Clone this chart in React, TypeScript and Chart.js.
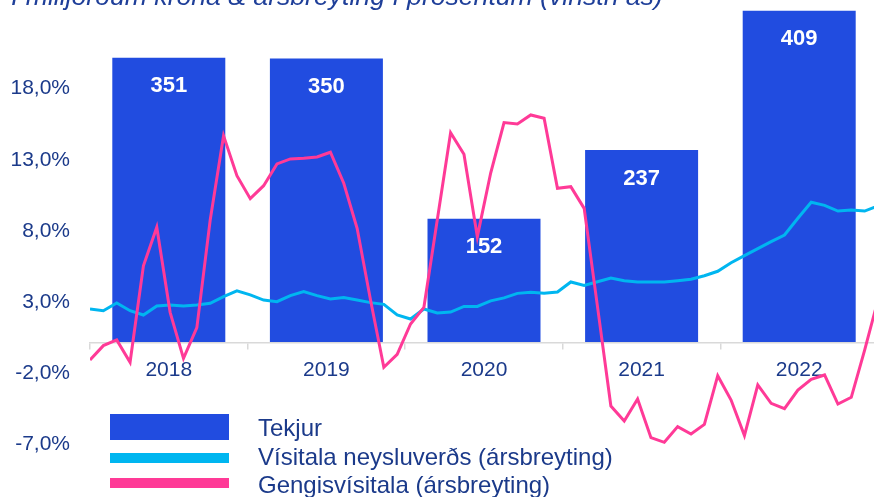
import React, { useEffect, useRef } from "react";
import { Chart, registerables } from "chart.js";

Chart.register(...registerables);

const TITLE = "Í milljörðum króna & ársbreyting í prósentum (vinstri ás)";
const YEARS = ["2018", "2019", "2020", "2021", "2022"];
const TEKJUR = [351, 350, 152, 237, 409];
const VISITALA = [
  2.35, 2.23, 2.77, 2.23, 1.93, 2.56, 2.63, 2.56, 2.63, 2.75, 3.22, 3.62,
  3.34, 2.98, 2.87, 3.29, 3.57, 3.29, 3.05, 3.15, 2.98, 2.8, 2.68, 1.93,
  1.65, 2.35, 2.07, 2.14, 2.53, 2.53, 2.92, 3.13, 3.45, 3.52, 3.45, 3.55,
  4.25, 4.01, 4.27, 4.53, 4.34, 4.25, 4.25, 4.25, 4.34, 4.44, 4.69, 5.0,
  5.6, 6.1, 6.59, 7.08, 7.55, 8.72, 9.85, 9.63, 9.23, 9.3, 9.23, 9.6,
];
const GENGI = [
  -1.23, -0.22, 0.18, -1.39, 5.39, 8.09, 2.12, -1.11, 1.04, 8.6, 14.52, 11.71,
  10.1, 11.01, 12.54, 12.89, 12.94, 13.03, 13.36, 11.18, 8.02, 3.0, -1.74, -0.83,
  1.3, 2.47, 8.6, 14.73, 13.22, 7.43, 11.9, 15.44, 15.34, 15.98, 15.74, 10.83,
  10.94, 9.42, 2.5, -4.46, -5.51, -3.97, -6.68, -7.01, -5.91, -6.43, -5.75, -2.33,
  -4.04, -6.54, -2.98, -4.27, -4.65, -3.34, -2.59, -2.28, -4.32, -3.85, -0.53, 3.0,
];
const Y_TICKS = [-7, -2, 3, 8, 13, 18];
const LEGEND_LABELS = [
  "Tekjur",
  "Vísitala neysluverðs (ársbreyting)",
  "Gengisvísitala (ársbreyting)",
];

const NAVY = "#1B3A8A";
const TITLE_BLUE = "#1F3F99";
const BAR = "#214CE0";
const CYAN = "#00B6F0";
const PINK = "#FF3A97";
const FONT = '"Liberation Sans", Arial, sans-serif';

const barLabels = {
  id: "barLabels",
  afterDatasetDraw(chart: any, args: any) {
    if (args.index !== 2) return;
    const ctx = chart.ctx;
    ctx.save();
    ctx.fillStyle = "#ffffff";
    ctx.font = `bold 22px ${FONT}`;
    ctx.textAlign = "center";
    ctx.textBaseline = "middle";
    args.meta.data.forEach((el: any, i: number) => {
      ctx.fillText(String(TEKJUR[i]), el.x, el.y + 28.5);
    });
    ctx.restore();
  },
};

export default function App() {
  const ref = useRef<HTMLCanvasElement | null>(null);

  useEffect(() => {
    if (!ref.current) return;
    const chart = new Chart(ref.current, {
      type: "bar",
      data: {
        labels: YEARS,
        datasets: [
          {
            type: "line",
            label: LEGEND_LABELS[2],
            data: GENGI.map((v, i) => ({ x: i, y: v })),
            xAxisID: "x2",
            yAxisID: "y",
            borderColor: PINK,
            borderWidth: 3,
            pointRadius: 0,
            tension: 0,
            fill: false,
          } as any,
          {
            type: "line",
            label: LEGEND_LABELS[1],
            data: VISITALA.map((v, i) => ({ x: i, y: v })),
            xAxisID: "x2",
            yAxisID: "y",
            borderColor: CYAN,
            borderWidth: 3,
            pointRadius: 0,
            tension: 0,
            fill: false,
          } as any,
          {
            type: "bar",
            label: LEGEND_LABELS[0],
            data: TEKJUR,
            xAxisID: "x",
            yAxisID: "yBar",
            backgroundColor: BAR,
            borderWidth: 0,
            grouped: false,
            barPercentage: 0.717,
            categoryPercentage: 1.0,
          } as any,
        ],
      },
      options: {
        animation: false,
        responsive: false,
        maintainAspectRatio: false,
        layout: { padding: 0 },
        plugins: {
          legend: { display: false },
          tooltip: { enabled: false },
          title: { display: false },
        },
        scales: {
          x: {
            type: "category",
            labels: YEARS,
            offset: true,
            position: { y: 0 } as any,
            grid: {
              display: true,
              drawOnChartArea: false,
              drawTicks: true,
              tickLength: 6,
              color: "#D9D9D9",
              lineWidth: 1.5,
              offset: true,
            },
            border: { display: true, color: "#D9D9D9", width: 1.5 },
            ticks: {
              color: NAVY,
              font: { family: FONT, size: 21 },
              padding: 9,
              maxRotation: 0,
              autoSkip: false,
            },
          },
          x2: {
            type: "linear",
            min: 0,
            max: GENGI.length - 1,
            offset: false,
            display: false,
            grid: { offset: false },
          },
          y: {
            type: "linear",
            position: "left",
            min: -10.85,
            max: 24.05,
            afterBuildTicks: (s: any) => {
              s.ticks = Y_TICKS.map((v) => ({ value: v }));
            },
            afterFit: (s: any) => {
              s.width = 90;
              s.paddingTop = 0;
              s.paddingBottom = 0;
            },
            grid: { display: false, drawTicks: false },
            border: { display: false },
            ticks: {
              padding: 20,
              labelOffset: 2.5,
              color: NAVY,
              font: { family: FONT, size: 21 },
              callback: (v: any) => Number(v).toFixed(1).replace(".", ",") + "%",
            },
          },
          yBar: {
            type: "linear",
            position: "right",
            display: false,
            min: -191.4,
            max: 422.2,
          },
        },
      } as any,
      plugins: [barLabels],
    });
    return () => chart.destroy();
  }, []);

  const legendRow = (top: number, h: number, color: string) => (
    <div
      style={{
        position: "absolute",
        left: 110,
        top,
        width: 119,
        height: h,
        background: color,
      }}
    />
  );
  const legendText = (centerY: number, text: string) => (
    <div
      style={{
        position: "absolute",
        left: 258,
        top: centerY - 11.7,
        height: 24,
        lineHeight: "24px",
        fontFamily: FONT,
        fontSize: 24,
        color: NAVY,
        whiteSpace: "nowrap",
      }}
    >
      {text}
    </div>
  );

  return (
    <div
      style={{
        position: "fixed",
        left: 0,
        top: 0,
        width: 874,
        height: 497,
        overflow: "hidden",
        background: "#ffffff",
      }}
    >
      <canvas
        ref={ref}
        width={878}
        height={497}
        style={{ position: "absolute", left: 0, top: 0, width: 878, height: 497 }}
      />
      <div
        style={{
          position: "absolute",
          left: 11,
          top: -17.5,
          lineHeight: "26.6px",
          fontFamily: FONT,
          fontStyle: "italic",
          fontSize: 26.6,
          color: TITLE_BLUE,
          whiteSpace: "nowrap",
        }}
      >
        {TITLE}
      </div>
      {legendRow(414, 25.5, BAR)}
      {legendRow(453, 10, CYAN)}
      {legendRow(478, 10, PINK)}
      {legendText(428, LEGEND_LABELS[0])}
      {legendText(456.5, LEGEND_LABELS[1])}
      {legendText(485, LEGEND_LABELS[2])}
    </div>
  );
}
